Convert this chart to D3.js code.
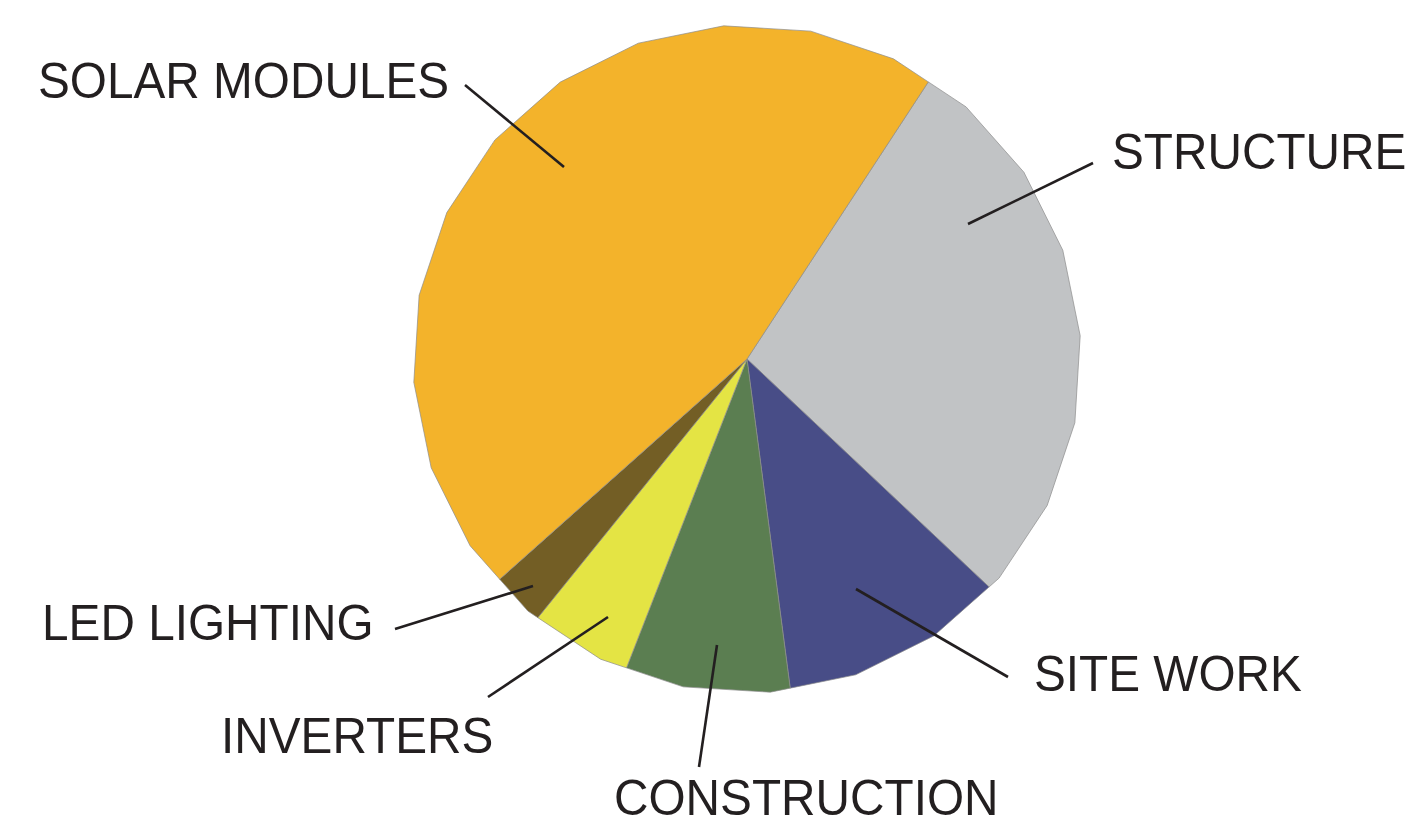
<!DOCTYPE html>
<html>
<head>
<meta charset="utf-8">
<script src="https://cdn.jsdelivr.net/npm/d3@7"></script>
<style>
  html, body { margin: 0; padding: 0; background: #fff; }
  svg { display: block; }
  .label { font-family: "Liberation Sans", Arial, sans-serif; font-size: 50px; fill: #231f20; }
</style>
</head>
<body>
<div id="chart"></div>
<script>
// slice order runs clockwise, starting at the solar/structure boundary
var categories = ["STRUCTURE", "SITE WORK", "CONSTRUCTION", "INVERTERS", "LED LIGHTING", "SOLAR MODULES"];
var shares = [27.8, 10.9, 8.0, 4.9, 2.6, 45.8];
var colors = ["#c1c3c5", "#484d87", "#5b7e51", "#e4e444", "#735e25", "#f3b32b"];

var width = 1406, height = 826;
var cx = 747, cy = 359, R = 334;
var startDeg = 33.2;
// the outline in the original is a 24-sided polygon, not a true circle
var sides = 24, step = 2 * Math.PI / sides, phase = -4 * Math.PI / 180;

// label layout: text position and leader line (inner point, outer point)
var labelLayout = {
  "SOLAR MODULES": { x: 38, y: 98, line: [[564, 167], [465, 85]] },
  "STRUCTURE": { x: 1112, y: 169, line: [[968, 224], [1093, 163]] },
  "SITE WORK": { x: 1034, y: 691, line: [[856, 589], [1008, 677]] },
  "CONSTRUCTION": { x: 614, y: 815, line: [[717, 645], [699, 767]] },
  "INVERTERS": { x: 221, y: 753, line: [[608, 617], [488, 697]] },
  "LED LIGHTING": { x: 42, y: 640, line: [[533, 586], [395, 629]] }
};

var svg = d3.select("#chart").append("svg")
  .attr("width", width)
  .attr("height", height);

var g = svg.append("g").attr("transform", `translate(${cx},${cy})`);

var data = categories.map(function(c, i) { return { name: c, value: shares[i], color: colors[i] }; });

var pie = d3.pie()
  .sort(null)
  .value(function(d) { return d.value; })
  .startAngle(startDeg * Math.PI / 180)
  .endAngle(startDeg * Math.PI / 180 + 2 * Math.PI);

// point on polygon edge at angle a (d3 convention: 0 = up, clockwise)
function polyPoint(a) {
  var k = Math.floor((a - phase) / step);
  var mid = phase + (k + 0.5) * step;
  var r = R * Math.cos(step / 2) / Math.cos(a - mid);
  return [r * Math.sin(a), -r * Math.cos(a)];
}

function slicePath(d) {
  var pts = [[0, 0], polyPoint(d.startAngle)];
  var k = Math.ceil((d.startAngle - phase) / step);
  var v = phase + k * step;
  while (v < d.endAngle - 1e-6) {
    if (v > d.startAngle + 1e-6) pts.push([R * Math.sin(v), -R * Math.cos(v)]);
    v += step;
  }
  pts.push(polyPoint(d.endAngle - 1e-9));
  return d3.line()(pts) + "Z";
}

g.selectAll("path.slice")
  .data(pie(data))
  .enter()
  .append("path")
  .attr("class", "slice")
  .attr("d", slicePath)
  .style("fill", function(d) { return d.data.color; })
  .style("stroke", "#8c8c8c")
  .style("stroke-width", "0.7px")
  .style("stroke-linejoin", "round");

// leader lines
svg.selectAll("line.leader")
  .data(categories)
  .enter()
  .append("line")
  .attr("class", "leader")
  .attr("x1", function(d) { return labelLayout[d].line[0][0]; })
  .attr("y1", function(d) { return labelLayout[d].line[0][1]; })
  .attr("x2", function(d) { return labelLayout[d].line[1][0]; })
  .attr("y2", function(d) { return labelLayout[d].line[1][1]; })
  .style("stroke", "#231f20")
  .style("stroke-width", "2.6px");

svg.selectAll("text.label")
  .data(categories)
  .enter()
  .append("text")
  .attr("class", "label")
  .attr("transform", function(d) {
    return `translate(${labelLayout[d].x},${labelLayout[d].y}) scale(0.955,1)`;
  })
  .text(function(d) { return d; });
</script>
</body>
</html>
